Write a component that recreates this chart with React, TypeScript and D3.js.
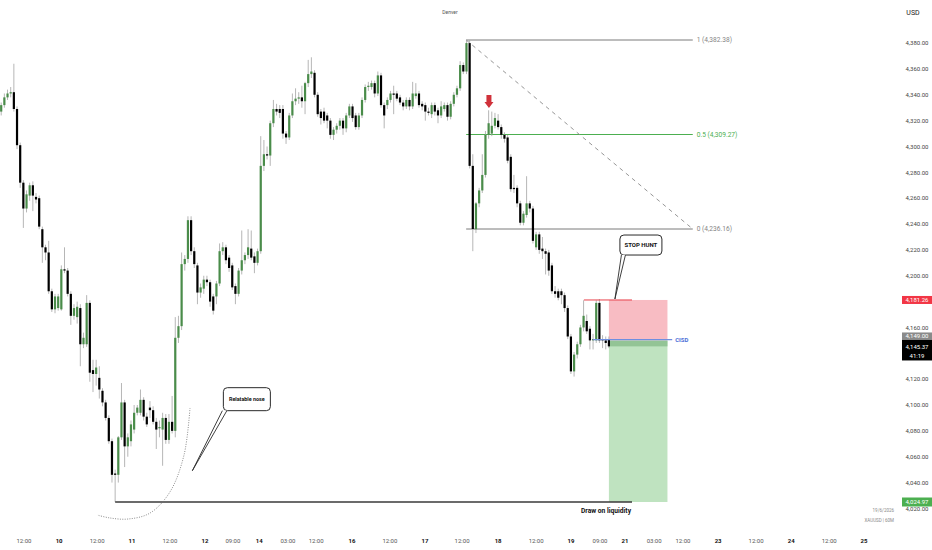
import { useEffect, useRef } from "react"
import * as d3 from "d3"

// XAUUSD 60M candles: [open, high, low, close]
const candles: [number, number, number, number][] = [
  [4327, 4334, 4324, 4332], [4332, 4341, 4330, 4338], [4338, 4344, 4336, 4341], [4341, 4346, 4338, 4342],
  [4342, 4364, 4327, 4329], [4329, 4331, 4298, 4301], [4301, 4303, 4268, 4272], [4272, 4274, 4237, 4252],
  [4252, 4266, 4249, 4263], [4262, 4272, 4258, 4270], [4270, 4273, 4250, 4262], [4261, 4264, 4256, 4259],
  [4260, 4262, 4236, 4238], [4236, 4238, 4210, 4222], [4222, 4224, 4212, 4218], [4218, 4227, 4186, 4188],
  [4188, 4190, 4172, 4174], [4174, 4186, 4171, 4184], [4175, 4186, 4173, 4184], [4174, 4208, 4173, 4205],
  [4205, 4222, 4202, 4204], [4204, 4206, 4184, 4186], [4186, 4188, 4162, 4169], [4169, 4178, 4166, 4175],
  [4168, 4180, 4163, 4176], [4175, 4178, 4130, 4147], [4147, 4156, 4144, 4152], [4147, 4185, 4145, 4179],
  [4179, 4181, 4118, 4125], [4127, 4135, 4110, 4124], [4124, 4135, 4115, 4129], [4121, 4130, 4105, 4112],
  [4111, 4113, 4099, 4102], [4102, 4104, 4088, 4090], [4090, 4092, 4070, 4072], [4072, 4074, 4040, 4046],
  [4047, 4050, 4025, 4046], [4046, 4076, 4040, 4075], [4075, 4117, 4073, 4102], [4102, 4104, 4052, 4068],
  [4068, 4078, 4060, 4075], [4072, 4088, 4068, 4085], [4081, 4100, 4078, 4094], [4094, 4100, 4092, 4098],
  [4094, 4112, 4092, 4104], [4104, 4106, 4088, 4091], [4091, 4094, 4083, 4085], [4098, 4103, 4090, 4096],
  [4096, 4099, 4085, 4087], [4087, 4090, 4066, 4081], [4082, 4088, 4075, 4083], [4081, 4094, 4053, 4090],
  [4090, 4093, 4070, 4073], [4073, 4093, 4070, 4087], [4087, 4107, 4078, 4080], [4080, 4168, 4075, 4152],
  [4152, 4169, 4148, 4161], [4161, 4218, 4158, 4209], [4209, 4216, 4204, 4213], [4213, 4246, 4210, 4243],
  [4243, 4246, 4216, 4219], [4219, 4222, 4206, 4209], [4208, 4210, 4178, 4187], [4187, 4194, 4183, 4191],
  [4190, 4200, 4186, 4197], [4197, 4200, 4192, 4195], [4195, 4197, 4176, 4180], [4184, 4186, 4170, 4173],
  [4184, 4196, 4178, 4194], [4194, 4225, 4192, 4219], [4219, 4226, 4216, 4222], [4222, 4224, 4209, 4212],
  [4214, 4216, 4203, 4206], [4208, 4210, 4189, 4191], [4192, 4194, 4178, 4186], [4186, 4206, 4184, 4204],
  [4204, 4235, 4201, 4212], [4212, 4218, 4209, 4216], [4216, 4236, 4213, 4222], [4221, 4235, 4212, 4214],
  [4215, 4218, 4202, 4210], [4210, 4221, 4208, 4219], [4219, 4308, 4217, 4285], [4285, 4305, 4281, 4294],
  [4294, 4300, 4290, 4293], [4293, 4320, 4285, 4318], [4318, 4336, 4315, 4329], [4329, 4333, 4324, 4327],
  [4329, 4332, 4322, 4326], [4329, 4332, 4306, 4310], [4310, 4312, 4302, 4307], [4307, 4326, 4305, 4324],
  [4324, 4341, 4322, 4335], [4335, 4345, 4332, 4337], [4337, 4342, 4333, 4338], [4338, 4347, 4330, 4335],
  [4335, 4350, 4325, 4349], [4349, 4367, 4346, 4356], [4356, 4369, 4353, 4358], [4357, 4359, 4338, 4340],
  [4340, 4342, 4323, 4325], [4327, 4329, 4317, 4322], [4327, 4330, 4318, 4320], [4324, 4326, 4314, 4320],
  [4320, 4322, 4306, 4309], [4309, 4315, 4305, 4313], [4313, 4318, 4310, 4316], [4316, 4322, 4313, 4320],
  [4320, 4322, 4309, 4314], [4314, 4326, 4311, 4324], [4324, 4333, 4322, 4331], [4331, 4333, 4319, 4322],
  [4324, 4326, 4313, 4315], [4315, 4326, 4313, 4324], [4324, 4338, 4322, 4336], [4336, 4348, 4334, 4346],
  [4346, 4350, 4343, 4347], [4346, 4351, 4344, 4349], [4349, 4351, 4338, 4341], [4341, 4358, 4339, 4355],
  [4355, 4357, 4330, 4332], [4332, 4334, 4314, 4324], [4332, 4338, 4329, 4336], [4336, 4343, 4334, 4341],
  [4341, 4347, 4325, 4340], [4341, 4343, 4335, 4337], [4338, 4340, 4332, 4334], [4334, 4336, 4328, 4331],
  [4331, 4338, 4329, 4336], [4336, 4338, 4328, 4331], [4331, 4350, 4329, 4341], [4339, 4349, 4337, 4341],
  [4341, 4343, 4330, 4332], [4333, 4335, 4328, 4331], [4332, 4334, 4320, 4327], [4327, 4330, 4324, 4326],
  [4325, 4334, 4322, 4332], [4332, 4334, 4324, 4327], [4328, 4330, 4318, 4324], [4324, 4335, 4322, 4331],
  [4329, 4334, 4327, 4332], [4332, 4334, 4320, 4323], [4323, 4335, 4321, 4333], [4333, 4342, 4331, 4340],
  [4340, 4347, 4338, 4345], [4345, 4366, 4343, 4363], [4363, 4365, 4356, 4358], [4358, 4382.38, 4356, 4380],
  [4380, 4382, 4283, 4285], [4285, 4294, 4219, 4236.16], [4236, 4257, 4233, 4256], [4256, 4268, 4253, 4266],
  [4266, 4294, 4264, 4278], [4278, 4312, 4276, 4309], [4309, 4328, 4306, 4318], [4310, 4327, 4308, 4316],
  [4316, 4326, 4314, 4322], [4320, 4325, 4313, 4315], [4315, 4317, 4306, 4309], [4309, 4311, 4303, 4306],
  [4307, 4309, 4287, 4289], [4292, 4294, 4265, 4267], [4268, 4278, 4264, 4267], [4268, 4270, 4253, 4256],
  [4256, 4258, 4239, 4241], [4241, 4250, 4239, 4248], [4247, 4277, 4245, 4256], [4256, 4258, 4249, 4252],
  [4252, 4254, 4225, 4227], [4222, 4234, 4220, 4232], [4232, 4234, 4217, 4220], [4221, 4230, 4213, 4219],
  [4219, 4221, 4201, 4217], [4218, 4220, 4200, 4204], [4208, 4210, 4186, 4188], [4188, 4192, 4183, 4186],
  [4188, 4190, 4181, 4183], [4188, 4190, 4178, 4185], [4185, 4187, 4172, 4175], [4175, 4177, 4151, 4153],
  [4153, 4155, 4124, 4126], [4126, 4141, 4122, 4139], [4139, 4149, 4136, 4147], [4147, 4162, 4145, 4160],
  [4160, 4181, 4157, 4169], [4165, 4170, 4155, 4157], [4159, 4161, 4143, 4150], [4150, 4155, 4143, 4151],
  [4150, 4181, 4148, 4179], [4179, 4182, 4148, 4150], [4151, 4154, 4144, 4150], [4150, 4153, 4143, 4148],
  [4151, 4153, 4144, 4145.37],
]

// 4,180 and 4,140 sit under the price tags, so they are not listed
const priceTicks = [4020, 4040, 4060, 4080, 4100, 4120, 4160, 4200, 4220, 4240, 4260, 4280, 4300, 4320, 4340, 4360, 4380]

// time axis labels, positioned in bar-index units
const timeTickIdx = [7.2, 18.3, 30.3, 41.3, 53.3, 64.4, 73.2, 81.5, 90.6, 99.5, 110.8, 122.8, 133.9, 145.6, 157, 169, 180, 189.2, 197.1, 206.3, 215.4, 226.5, 238.5, 249.6, 261.6, 272.6]
const timeTickLabels = ["12:00", "10", "12:00", "11", "12:00", "12", "09:00", "14", "03:00", "12:00", "16", "12:00", "17", "12:00", "18", "12:00", "19", "09:00", "21", "03:00", "12:00", "23", "12:00", "24", "12:00", "25"]

// fib retracement
const fibLevels = ["1", "0.5", "0"]
const fibPrices = [4382.38, 4309.27, 4236.16]
const fibSpan = [146.9, 218.5]

// short position
const positionSpan = [192, 210.5]
const stopPrice = 4181.26
const entryPrice = 4149.8
const targetPrice = 4024.97
const lastPrice = 4145.37

const cisdSpan = [187, 212]
const cisdPrice = 4150.6
const stopHuntSpan = [184.1, 199.3]
const liquiditySpan = [36, 199.3]

const nosePath: [number, number][] = [
  [59.65, 4097.7], [57.76, 4061.3], [53.3, 4032.7], [47.0, 4016.4], [40.06, 4011.8], [34.4, 4012.6], [30.3, 4014.9],
]

const fmt = d3.format(",.2f")

export default function App() {
  const svgRef = useRef<SVGSVGElement>(null)

  useEffect(() => {
    if (!svgRef.current) return
    d3.select(svgRef.current).selectAll("*").remove()

    const W = 932
    const H = 550
    const font = "Roboto, 'Noto Sans', sans-serif"

    const svg = d3.select(svgRef.current).attr("width", W).attr("height", H)

    svg.append("rect").attr("width", W).attr("height", H).attr("fill", "#ffffff")

    // scales: bar index -> px, price -> px
    const x = d3.scaleLinear().domain([0, 192]).range([1.2, 608.9])
    const y = d3.scaleLinear().domain([4024.97, 4382.38]).range([502, 40])

    const bodyW = 2.2
    const green = "#4a8c4a"

    // Short position box
    svg
      .append("rect")
      .attr("x", x(positionSpan[0]))
      .attr("y", y(stopPrice))
      .attr("width", x(positionSpan[1]) - x(positionSpan[0]))
      .attr("height", y(entryPrice) - y(stopPrice))
      .attr("fill", "#f8bcc3")
    svg
      .append("rect")
      .attr("x", x(positionSpan[0]))
      .attr("y", y(entryPrice))
      .attr("width", x(positionSpan[1]) - x(positionSpan[0]))
      .attr("height", y(targetPrice) - y(entryPrice))
      .attr("fill", "#bfe3c0")
    svg
      .append("rect")
      .attr("x", x(positionSpan[0]))
      .attr("y", y(entryPrice))
      .attr("width", x(positionSpan[1]) - x(positionSpan[0]))
      .attr("height", y(lastPrice) - y(entryPrice))
      .attr("fill", "#93c495")

    // Fib retracement
    const fibColors = ["#7b7b7b", "#4caf50", "#7b7b7b"]
    fibPrices.forEach((p, i) => {
      svg
        .append("line")
        .attr("x1", x(fibSpan[0]))
        .attr("x2", x(fibSpan[1]))
        .attr("y1", y(p))
        .attr("y2", y(p))
        .attr("stroke", fibColors[i])
        .attr("stroke-width", 1)
      svg
        .append("text")
        .attr("x", x(fibSpan[1]) + 4)
        .attr("y", y(p) + 2.3)
        .attr("fill", fibColors[i] === "#4caf50" ? "#4caf50" : "#858585")
        .style("font-family", font)
        .style("font-size", "6.6px")
        .text(`${fibLevels[i]} (${fmt(p)})`)
    })
    svg
      .append("line")
      .attr("x1", x(fibSpan[0]))
      .attr("y1", y(fibPrices[0]))
      .attr("x2", x(fibSpan[1]))
      .attr("y2", y(fibPrices[2]))
      .attr("stroke", "#8a8a8a")
      .attr("stroke-width", 0.9)
      .attr("stroke-dasharray", "4,4")

    // Candles
    const g = svg.append("g")
    g.selectAll("line.wick")
      .data(candles)
      .enter()
      .append("line")
      .attr("class", "wick")
      .attr("x1", (_, i) => x(i))
      .attr("x2", (_, i) => x(i))
      .attr("y1", (d) => y(d[1]))
      .attr("y2", (d) => y(d[2]))
      .attr("stroke", "#a3a3a3")
      .attr("stroke-width", 0.8)
    g.selectAll("rect.body")
      .data(candles)
      .enter()
      .append("rect")
      .attr("class", "body")
      .attr("x", (_, i) => x(i) - bodyW / 2)
      .attr("y", (d) => y(Math.max(d[0], d[3])))
      .attr("width", bodyW)
      .attr("height", (d) => Math.max(0.8, Math.abs(y(d[0]) - y(d[3]))))
      .attr("fill", (d) => (d[3] >= d[0] ? green : "#000000"))

    // Stop hunt line
    svg
      .append("line")
      .attr("x1", x(stopHuntSpan[0]))
      .attr("x2", x(stopHuntSpan[1]))
      .attr("y1", y(stopPrice))
      .attr("y2", y(stopPrice))
      .attr("stroke", "#e8414a")
      .attr("stroke-width", 1)

    // CISD
    svg
      .append("line")
      .attr("x1", x(cisdSpan[0]))
      .attr("x2", x(cisdSpan[1]))
      .attr("y1", y(cisdPrice))
      .attr("y2", y(cisdPrice))
      .attr("stroke", "#6f8ee0")
      .attr("stroke-width", 1.4)
    svg
      .append("text")
      .attr("x", x(cisdSpan[1]) + 3)
      .attr("y", y(cisdPrice) + 2.2)
      .attr("fill", "#4d70d8")
      .style("font-family", font)
      .style("font-size", "6px")
      .style("font-weight", "bold")
      .text("CISD")

    // Draw on liquidity
    svg
      .append("line")
      .attr("x1", x(liquiditySpan[0]))
      .attr("x2", x(liquiditySpan[1]))
      .attr("y1", y(targetPrice))
      .attr("y2", y(targetPrice))
      .attr("stroke", "#3a3a3a")
      .attr("stroke-width", 1.5)
    svg
      .append("text")
      .attr("x", x(liquiditySpan[1]) - 1)
      .attr("y", y(targetPrice) + 10.5)
      .attr("text-anchor", "end")
      .attr("fill", "#111")
      .style("font-family", font)
      .style("font-size", "7px")
      .style("font-weight", "bold")
      .attr("textLength", 50)
      .attr("lengthAdjust", "spacingAndGlyphs")
      .text("Draw on liquidity")

    // Dotted "nose" curve
    const nose = d3
      .line<[number, number]>()
      .x((d) => x(d[0]))
      .y((d) => y(d[1]))
      .curve(d3.curveCatmullRom)
    svg
      .append("path")
      .attr("d", nose(nosePath))
      .attr("fill", "none")
      .attr("stroke", "#6e6e6e")
      .attr("stroke-width", 0.8)
      .attr("stroke-dasharray", "1,1.4")

    // Callouts
    const callout = (tx: number, ty: number, bx: number, by: number, bw: number, bh: number, baseA: number, baseB: number, label: string, size: number) => {
      const c = svg.append("g")
      c.append("rect")
        .attr("x", bx)
        .attr("y", by)
        .attr("width", bw)
        .attr("height", bh)
        .attr("rx", 4)
        .attr("fill", "#fff")
        .attr("stroke", "#2a2a2a")
        .attr("stroke-width", 1)
      c.append("path")
        .attr("d", `M${baseA},${by + bh - 0.2} L${tx},${ty} L${baseB},${by + bh - 0.2} Z`)
        .attr("fill", "#fff")
      c.append("path")
        .attr("d", `M${baseA},${by + bh} L${tx},${ty} L${baseB},${by + bh}`)
        .attr("fill", "none")
        .attr("stroke", "#2a2a2a")
        .attr("stroke-width", 0.9)
      c.append("text")
        .attr("x", bx + bw / 2)
        .attr("y", by + bh / 2 + size * 0.36)
        .attr("text-anchor", "middle")
        .attr("fill", "#111")
        .style("font-family", font)
        .style("font-size", `${size}px`)
        .style("font-weight", "bold")
        .text(label)
    }
    const shx = x(193.9)
    const shy = y(4182)
    callout(shx, shy, shx + 5, shy - 64, 42, 20, shx + 6.5, shx + 10.5, "STOP HUNT", 6)
    const rnx = x(60.4)
    const rny = y(4049.2)
    callout(rnx, rny, rnx + 31, rny - 83, 47, 23, rnx + 30, rnx + 34.5, "Relatable nose", 5.4)

    // Red arrow
    const ax = x(154.1)
    const ay = y(4329.8)
    svg
      .append("path")
      .attr("d", `M${ax},${ay} L${ax - 4.5},${ay - 6} L${ax - 2.5},${ay - 6} L${ax - 2.5},${ay - 13} L${ax + 2.5},${ay - 13} L${ax + 2.5},${ay - 6} L${ax + 4.5},${ay - 6} Z`)
      .attr("fill", "#d0313a")

    // Price axis
    const axisX = 917
    svg
      .append("g")
      .selectAll("text")
      .data(priceTicks)
      .enter()
      .append("text")
      .attr("x", axisX)
      .attr("y", (d) => y(d) + 2.2)
      .attr("text-anchor", "middle")
      .attr("fill", "#444")
      .style("font-family", font)
      .style("font-size", "6px")
      .text((d) => fmt(d))

    const tag = (cy: number, h: number, bg: string) =>
      svg.append("rect").attr("x", 902).attr("y", cy - h / 2).attr("width", 30).attr("height", h).attr("fill", bg)
    const tagText = (cy: number, t: string) =>
      svg
        .append("text")
        .attr("x", axisX)
        .attr("y", cy + 2.2)
        .attr("text-anchor", "middle")
        .attr("fill", "#fff")
        .style("font-family", font)
        .style("font-size", "6px")
        .text(t)

    tag(y(stopPrice), 8, "#f23645")
    tagText(y(stopPrice), fmt(stopPrice))
    const blackTop = y(lastPrice) - 6.4
    svg.append("rect").attr("x", 902).attr("y", blackTop - 7.5).attr("width", 30).attr("height", 7.5).attr("fill", "#8a8a8a")
    tagText(blackTop - 3.75, fmt(4149))
    svg.append("rect").attr("x", 902).attr("y", blackTop).attr("width", 30).attr("height", 20.5).attr("fill", "#000")
    tagText(y(lastPrice), fmt(lastPrice))
    tagText(y(lastPrice) + 9.5, "41:19")
    tag(y(targetPrice), 9, "#4caf50")
    tagText(y(targetPrice), fmt(targetPrice))

    // Time axis
    svg
      .append("g")
      .selectAll("text")
      .data(timeTickLabels)
      .enter()
      .append("text")
      .attr("x", (_, i) => x(timeTickIdx[i]))
      .attr("y", 543)
      .attr("text-anchor", "middle")
      .attr("fill", (d) => (d.includes(":") ? "#555" : "#111"))
      .style("font-family", font)
      .style("font-size", "6px")
      .style("font-weight", (d) => (d.includes(":") ? "normal" : "bold"))
      .text((d) => d)

    // Headers and small captions
    svg.append("text").attr("x", 450).attr("y", 14).attr("text-anchor", "middle").attr("fill", "#555")
      .style("font-family", font).style("font-size", "5px").text("Denver")
    svg.append("text").attr("x", 913).attr("y", 14.5).attr("text-anchor", "middle").attr("fill", "#222")
      .style("font-family", font).style("font-size", "7px").text("USD")
    svg.append("text").attr("x", 894).attr("y", 511.5).attr("text-anchor", "end").attr("fill", "#8a8a8a")
      .style("font-family", font).style("font-size", "4.5px").text("19/6/2026")
    svg.append("text").attr("x", 894).attr("y", 521.5).attr("text-anchor", "end").attr("fill", "#8a8a8a")
      .style("font-family", font).style("font-size", "4.5px").text("XAUUSD | 60M")
  }, [])

  return (
    <div style={{ position: "fixed", left: 0, top: 0, width: 932, height: 550, background: "#fff" }}>
      <svg ref={svgRef} style={{ display: "block" }}></svg>
    </div>
  )
}
